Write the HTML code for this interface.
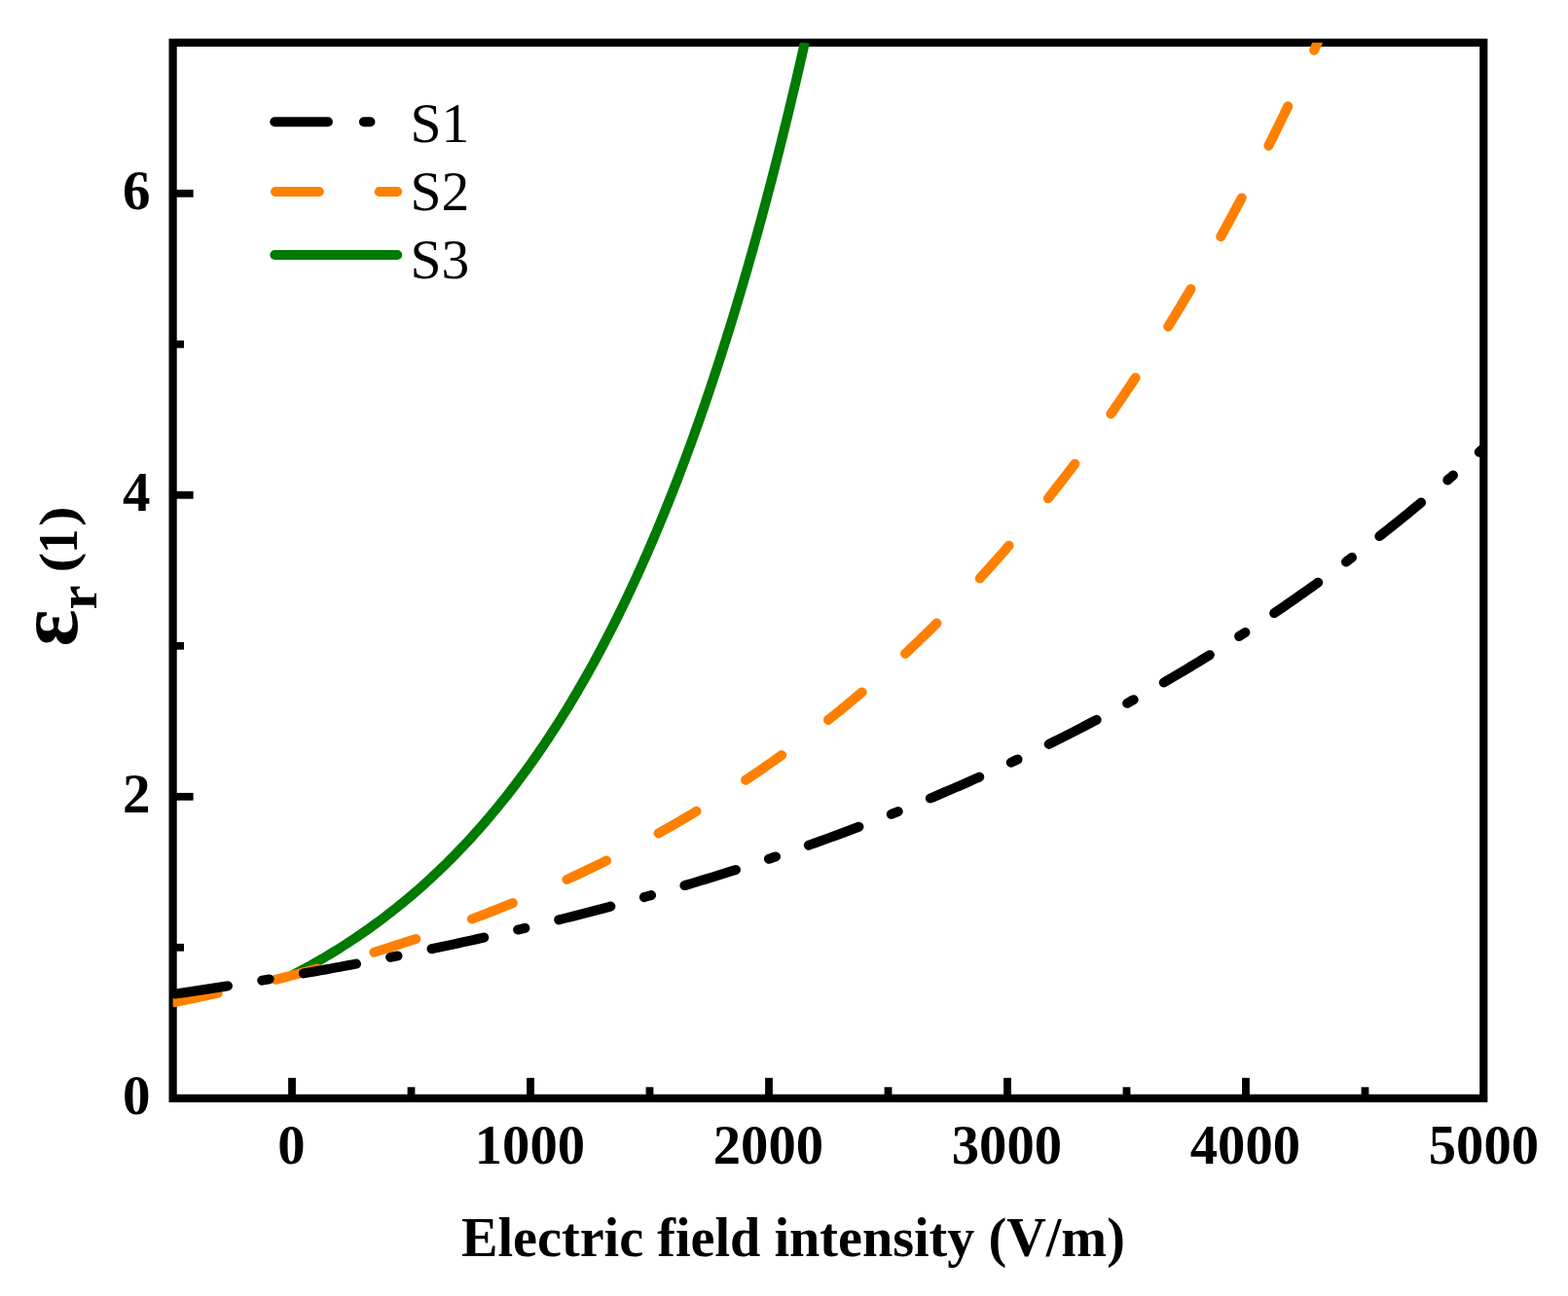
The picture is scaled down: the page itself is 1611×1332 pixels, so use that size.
<!DOCTYPE html>
<html><head><meta charset="utf-8"><title>Relative permittivity vs electric field intensity</title>
<style>
html,body{margin:0;padding:0;background:#fff;}
body{width:1611px;height:1332px;overflow:hidden;}
svg{display:block;}
text{font-family:"Liberation Serif","Times New Roman",serif;fill:#000;}
</style></head>
<body>
<svg width="1611" height="1332" viewBox="0 0 1611 1332">
<defs><clipPath id="plot"><rect x="177.6" y="43.8" width="1346.70" height="1085.00"/></clipPath></defs>
<rect width="1611" height="1332" fill="#fff"/>
<g fill="none" stroke="#000" stroke-width="7.8">
<line x1="300.00" y1="1128.8" x2="300.00" y2="1107.8"/>
<line x1="545.00" y1="1128.8" x2="545.00" y2="1107.8"/>
<line x1="790.00" y1="1128.8" x2="790.00" y2="1107.8"/>
<line x1="1035.00" y1="1128.8" x2="1035.00" y2="1107.8"/>
<line x1="1280.00" y1="1128.8" x2="1280.00" y2="1107.8"/>
<line x1="422.50" y1="1128.8" x2="422.50" y2="1117.3"/>
<line x1="667.50" y1="1128.8" x2="667.50" y2="1117.3"/>
<line x1="912.50" y1="1128.8" x2="912.50" y2="1117.3"/>
<line x1="1157.50" y1="1128.8" x2="1157.50" y2="1117.3"/>
<line x1="1402.50" y1="1128.8" x2="1402.50" y2="1117.3"/>
<line x1="177.6" y1="818.80" x2="198.6" y2="818.80"/>
<line x1="177.6" y1="508.80" x2="198.6" y2="508.80"/>
<line x1="177.6" y1="198.80" x2="198.6" y2="198.80"/>
<line x1="177.6" y1="973.80" x2="189" y2="973.80"/>
<line x1="177.6" y1="663.80" x2="189" y2="663.80"/>
<line x1="177.6" y1="353.80" x2="189" y2="353.80"/>
</g>
<rect x="177.6" y="43.8" width="1346.70" height="1085.00" fill="none" stroke="#000" stroke-width="8.2"/>
<g fill="none" stroke-linejoin="round" clip-path="url(#plot)">
<path d="M300.00,1002.47 L303.35,1000.74 L306.69,998.98 L310.02,997.20 L313.34,995.40 L316.65,993.59 L319.95,991.76 L323.24,989.90 L326.52,988.03 L329.79,986.14 L333.05,984.23 L336.29,982.31 L339.53,980.36 L342.75,978.39 L345.96,976.41 L349.16,974.41 L352.35,972.38 L355.52,970.34 L358.69,968.28 L361.84,966.20 L364.98,964.11 L368.11,961.99 L371.22,959.86 L374.32,957.71 L377.41,955.54 L380.49,953.35 L383.55,951.14 L386.60,948.91 L389.64,946.67 L392.66,944.41 L395.67,942.13 L398.66,939.83 L401.65,937.52 L404.62,935.19 L407.57,932.84 L410.51,930.47 L413.44,928.09 L416.35,925.69 L419.25,923.27 L422.14,920.83 L425.01,918.38 L427.86,915.91 L430.71,913.43 L433.54,910.93 L436.35,908.41 L439.15,905.88 L441.93,903.33 L444.70,900.77 L447.46,898.19 L450.20,895.59 L452.93,892.98 L455.64,890.36 L458.34,887.72 L461.02,885.06 L463.69,882.39 L466.35,879.71 L468.99,877.01 L471.61,874.30 L474.22,871.57 L476.82,868.83 L479.40,866.07 L481.97,863.31 L484.52,860.53 L487.06,857.73 L489.59,854.92 L492.10,852.10 L494.59,849.27 L497.07,846.43 L499.54,843.57 L501.99,840.70 L504.43,837.82 L506.85,834.92 L509.27,832.02 L511.66,829.10 L514.04,826.17 L516.41,823.23 L518.77,820.28 L521.11,817.32 L523.43,814.35 L525.75,811.36 L528.05,808.37 L530.33,805.36 L532.61,802.35 L534.87,799.33 L537.11,796.29 L539.35,793.25 L541.57,790.19 L543.77,787.13 L545.96,784.06 L548.15,780.98 L550.31,777.89 L552.47,774.79 L554.61,771.68 L556.74,768.56 L558.86,765.43 L560.96,762.30 L563.05,759.16 L565.13,756.01 L567.20,752.85 L569.25,749.68 L571.30,746.51 L573.33,743.32 L575.35,740.13 L577.35,736.94 L579.35,733.73 L581.33,730.52 L583.31,727.30 L585.27,724.07 L587.22,720.84 L589.15,717.60 L591.08,714.35 L593.00,711.10 L594.90,707.84 L596.79,704.58 L598.68,701.30 L600.55,698.03 L602.41,694.74 L604.26,691.45 L606.10,688.15 L607.93,684.85 L609.75,681.54 L611.56,678.23 L613.35,674.91 L615.14,671.59 L616.92,668.26 L618.69,664.92 L620.45,661.58 L622.19,658.23 L623.93,654.88 L625.66,651.53 L627.38,648.16 L629.09,644.80 L630.79,641.43 L632.48,638.05 L634.16,634.67 L635.84,631.29 L637.50,627.90 L639.15,624.51 L640.80,621.11 L642.44,617.71 L644.06,614.30 L645.68,610.89 L647.29,607.47 L648.89,604.06 L650.49,600.63 L652.07,597.21 L653.65,593.78 L655.21,590.34 L656.77,586.90 L658.32,583.46 L659.87,580.02 L661.40,576.57 L662.93,573.11 L664.45,569.66 L665.96,566.20 L667.46,562.74 L668.96,559.27 L670.45,555.80 L671.93,552.33 L673.40,548.85 L674.87,545.37 L676.32,541.89 L677.77,538.40 L679.22,534.92 L680.65,531.43 L682.08,527.93 L683.50,524.43 L684.92,520.93 L686.33,517.43 L687.73,513.93 L689.12,510.42 L690.51,506.91 L691.89,503.39 L693.26,499.88 L694.63,496.36 L695.99,492.83 L697.34,489.31 L698.69,485.78 L700.03,482.26 L701.37,478.72 L702.69,475.19 L704.02,471.65 L705.33,468.12 L706.64,464.57 L707.95,461.03 L709.24,457.49 L710.53,453.94 L711.82,450.39 L713.10,446.84 L714.37,443.28 L715.64,439.73 L716.90,436.17 L718.16,432.61 L719.41,429.05 L720.65,425.48 L721.89,421.92 L723.13,418.35 L724.35,414.78 L725.58,411.21 L726.79,407.63 L728.00,404.06 L729.21,400.48 L730.41,396.90 L731.61,393.32 L732.80,389.74 L733.98,386.15 L735.16,382.57 L736.34,378.98 L737.51,375.39 L738.67,371.80 L739.83,368.21 L740.99,364.61 L742.14,361.02 L743.28,357.42 L744.42,353.82 L745.56,350.22 L746.69,346.62 L747.82,343.02 L748.94,339.41 L750.05,335.81 L751.17,332.20 L752.27,328.59 L753.38,324.98 L754.48,321.37 L755.57,317.75 L756.66,314.14 L757.74,310.52 L758.82,306.91 L759.90,303.29 L760.97,299.67 L762.04,296.05 L763.10,292.42 L764.16,288.80 L765.22,285.18 L766.27,281.55 L767.32,277.92 L768.36,274.29 L769.40,270.66 L770.43,267.03 L771.46,263.40 L772.49,259.77 L773.51,256.13 L774.53,252.50 L775.54,248.86 L776.55,245.23 L777.56,241.59 L778.56,237.95 L779.56,234.31 L780.56,230.67 L781.55,227.02 L782.54,223.38 L783.52,219.73 L784.50,216.09 L785.48,212.44 L786.45,208.80 L787.42,205.15 L788.39,201.50 L789.35,197.85 L790.31,194.20 L791.27,190.54 L792.22,186.89 L793.17,183.24 L794.11,179.58 L795.05,175.93 L795.99,172.27 L796.93,168.61 L797.86,164.95 L798.79,161.29 L799.71,157.63 L800.63,153.97 L801.55,150.31 L802.47,146.65 L803.38,142.98 L804.29,139.32 L805.19,135.66 L806.10,131.99 L807.00,128.32 L807.89,124.66 L808.79,120.99 L809.68,117.32 L810.56,113.65 L811.45,109.98 L812.33,106.31 L813.21,102.64 L814.08,98.97 L814.95,95.29 L815.82,91.62 L816.69,87.94 L817.55,84.27 L818.41,80.59 L819.27,76.92 L820.13,73.24 L820.98,69.56 L821.83,65.88 L822.68,62.20 L823.52,58.52 L824.36,54.84 L825.20,51.16 L826.03,47.48 L826.87,43.80" stroke="#007a00" stroke-width="10" stroke-linecap="butt"/>
<path d="M179.66,1029.98 L183.67,1029.17 L187.67,1028.35 L191.68,1027.53 L195.69,1026.70 L199.69,1025.86 L203.69,1025.02 L207.70,1024.16 L211.70,1023.31 L215.69,1022.44 L219.69,1021.57 L223.69,1020.69 M282.98,1006.79 L286.94,1005.80 L290.91,1004.80 L294.88,1003.79 L298.84,1002.77 L302.80,1001.75 L306.76,1000.72 L310.72,999.68 L314.67,998.64 L318.62,997.58 L322.57,996.52 L326.52,995.45 M384.45,978.71 L388.36,977.51 L392.27,976.30 L396.17,975.08 L400.08,973.85 L403.98,972.61 L407.87,971.37 L411.76,970.11 L415.66,968.85 L419.54,967.57 L423.43,966.29 L427.31,965.00 M484.89,944.57 L488.72,943.13 L492.54,941.67 L496.36,940.21 L500.18,938.73 L503.99,937.25 L507.80,935.75 L511.60,934.25 L515.40,932.73 L519.20,931.21 L522.99,929.67 L526.78,928.13 M582.37,904.02 L586.09,902.31 L589.80,900.59 L593.50,898.85 L597.20,897.11 L600.90,895.36 L604.59,893.59 L608.28,891.82 L611.96,890.03 L615.63,888.23 L619.30,886.42 L622.96,884.60 M676.58,856.37 L680.15,854.38 L683.72,852.37 L687.28,850.36 L690.83,848.33 L694.38,846.29 L697.92,844.24 L701.45,842.18 L704.98,840.11 L708.50,838.03 L712.02,835.94 L715.53,833.83 M766.11,801.76 L769.51,799.48 L772.90,797.19 L776.28,794.89 L779.66,792.58 L783.03,790.26 L786.39,787.93 L789.74,785.59 L793.09,783.24 L796.43,780.88 L799.76,778.50 L803.09,776.12 M850.86,740.00 L854.06,737.45 L857.26,734.89 L860.44,732.32 L863.62,729.75 L866.79,727.16 L869.95,724.56 L873.10,721.95 L876.24,719.33 L879.37,716.70 L882.50,714.07 L885.62,711.42 M930.03,671.83 L933.02,669.03 L935.99,666.23 L938.96,663.41 L941.93,660.59 L944.88,657.76 L947.83,654.92 L950.76,652.07 L953.69,649.22 L956.61,646.35 L959.52,643.48 L962.42,640.59 M1006.72,594.41 L1009.48,591.39 L1012.23,588.36 L1014.97,585.32 L1017.71,582.28 L1020.43,579.23 L1023.15,576.18 L1025.86,573.11 L1028.56,570.04 L1031.26,566.96 L1033.94,563.87 L1036.62,560.78 M1076.79,512.25 L1079.33,509.05 L1081.86,505.83 L1084.39,502.61 L1086.90,499.39 L1089.41,496.16 L1091.91,492.92 L1094.41,489.68 L1096.89,486.43 L1099.37,483.17 L1101.84,479.91 L1104.30,476.64 M1141.34,425.44 L1143.67,422.08 L1146.00,418.71 L1148.32,415.34 L1150.63,411.97 L1152.94,408.59 L1155.23,405.20 L1157.52,401.82 L1159.81,398.42 L1162.08,395.02 L1164.35,391.62 L1166.61,388.21 M1200.22,335.63 L1202.36,332.15 L1204.50,328.66 L1206.64,325.17 L1208.76,321.68 L1210.88,318.18 L1213.00,314.68 L1215.10,311.17 L1217.20,307.66 L1219.29,304.14 L1221.38,300.62 L1223.46,297.10 M1254.29,243.08 L1256.27,239.50 L1258.24,235.92 L1260.21,232.33 L1262.17,228.74 L1264.12,225.14 L1266.07,221.55 L1268.01,217.94 L1269.94,214.34 L1271.87,210.73 L1273.80,207.12 L1275.71,203.51 M1303.40,149.72 L1305.23,146.06 L1307.05,142.40 L1308.87,138.73 L1310.68,135.06 L1312.49,131.39 L1314.29,127.72 L1316.08,124.04 L1317.88,120.37 L1319.66,116.68 L1321.44,113.00 L1323.22,109.32 M1350.19,51.61 L1350.52,50.90 L1350.84,50.19 L1351.16,49.48 L1351.48,48.77 L1351.81,48.06 L1352.13,47.35 L1352.45,46.64 L1352.77,45.93 L1353.09,45.22 L1353.41,44.51 L1353.73,43.80" stroke="#ff8000" stroke-width="10" stroke-linecap="round"/>
<path d="M177.50,1021.87 L182.41,1021.15 L187.32,1020.43 L192.22,1019.70 L197.13,1018.97 L202.04,1018.24 L206.94,1017.50 L211.84,1016.75 L216.75,1016.00 L221.65,1015.25 L226.55,1014.49 L231.45,1013.72 L236.35,1012.95 L241.25,1012.18 L246.15,1011.40 L251.05,1010.61 L255.95,1009.82 L260.85,1009.03 L265.74,1008.23 L270.64,1007.42 L275.53,1006.61 L280.42,1005.80 L285.31,1004.97 L290.21,1004.15 L295.10,1003.32 L299.99,1002.48 L304.87,1001.63 L309.76,1000.79 L314.65,999.93 L319.53,999.07 L324.42,998.21 L329.30,997.34 L334.18,996.46 L339.07,995.58 L343.95,994.69 L348.83,993.80 L353.70,992.90 L358.58,991.99 L363.46,991.08 L368.33,990.17 L373.21,989.25 L378.08,988.32 L382.95,987.38 L387.82,986.44 L392.69,985.50 L397.56,984.54 L402.43,983.59 L407.29,982.62 L412.16,981.65 L417.02,980.67 L421.88,979.69 L426.74,978.70 L431.60,977.70 L436.46,976.70 L441.32,975.69 L446.17,974.68 L451.03,973.66 L455.88,972.63 L460.73,971.60 L465.58,970.56 L470.43,969.51 L475.28,968.45 L480.12,967.39 L484.97,966.33 L489.81,965.25 L494.65,964.17 L499.49,963.08 L504.33,961.99 L509.17,960.89 L514.00,959.78 L518.84,958.66 L523.67,957.54 L528.50,956.41 L533.33,955.28 L538.15,954.13 L542.98,952.98 L547.80,951.83 L552.63,950.66 L557.45,949.49 L562.26,948.31 L567.08,947.12 L571.90,945.93 L576.71,944.73 L581.52,943.52 L586.33,942.30 L591.14,941.08 L595.94,939.85 L600.74,938.61 L605.55,937.36 L610.34,936.11 L615.14,934.85 L619.94,933.58 L624.73,932.30 L629.52,931.01 L634.31,929.72 L639.10,928.42 L643.88,927.11 L648.67,925.79 L653.45,924.47 L658.22,923.14 L663.00,921.80 L667.77,920.45 L672.55,919.09 L677.31,917.73 L682.08,916.35 L686.85,914.97 L691.61,913.58 L696.37,912.18 L701.12,910.78 L705.88,909.36 L710.63,907.94 L715.38,906.51 L720.13,905.07 L724.87,903.62 L729.61,902.16 L734.35,900.69 L739.09,899.22 L743.82,897.74 L748.55,896.24 L753.28,894.74 L758.01,893.23 L762.73,891.71 L767.45,890.19 L772.16,888.65 L776.88,887.11 L781.59,885.55 L786.30,883.99 L791.00,882.42 L795.70,880.84 L800.40,879.25 L805.10,877.65 L809.79,876.04 L814.48,874.42 L819.17,872.79 L823.85,871.16 L828.53,869.51 L833.20,867.86 L837.88,866.19 L842.55,864.52 L847.21,862.83 L851.88,861.14 L856.54,859.44 L861.19,857.73 L865.84,856.01 L870.49,854.28 L875.14,852.54 L879.78,850.79 L884.42,849.03 L889.05,847.26 L893.68,845.48 L898.31,843.69 L902.93,841.89 L907.55,840.08 L912.17,838.26 L916.78,836.43 L921.38,834.59 L925.99,832.75 L930.59,830.89 L935.18,829.02 L939.77,827.14 L944.36,825.25 L948.94,823.35 L953.52,821.45 L958.10,819.53 L962.67,817.60 L967.23,815.66 L971.79,813.71 L976.35,811.75 L980.90,809.78 L985.45,807.80 L989.99,805.81 L994.53,803.81 L999.07,801.80 L1003.60,799.77 L1008.12,797.74 L1012.64,795.70 L1017.16,793.65 L1021.67,791.58 L1026.18,789.51 L1030.68,787.43 L1035.18,785.33 L1039.67,783.23 L1044.15,781.11 L1048.64,778.98 L1053.11,776.85 L1057.58,774.70 L1062.05,772.54 L1066.51,770.37 L1070.97,768.19 L1075.42,766.00 L1079.86,763.80 L1084.30,761.59 L1088.74,759.37 L1093.17,757.13 L1097.59,754.89 L1102.01,752.63 L1106.42,750.37 L1110.83,748.09 L1115.23,745.81 L1119.63,743.51 L1124.02,741.20 L1128.40,738.88 L1132.78,736.55 L1137.16,734.21 L1141.53,731.86 L1145.89,729.50 L1150.24,727.12 L1154.59,724.74 L1158.94,722.34 L1163.27,719.94 L1167.61,717.52 L1171.93,715.09 L1176.25,712.65 L1180.57,710.20 L1184.87,707.74 L1189.17,705.27 L1193.47,702.79 L1197.76,700.30 L1202.04,697.79 L1206.32,695.28 L1210.59,692.75 L1214.85,690.22 L1219.11,687.67 L1223.36,685.11 L1227.60,682.54 L1231.84,679.96 L1236.07,677.37 L1240.29,674.77 L1244.51,672.16 L1248.72,669.53 L1252.92,666.90 L1257.12,664.26 L1261.31,661.60 L1265.49,658.93 L1269.67,656.26 L1273.83,653.57 L1278.00,650.87 L1282.15,648.16 L1286.30,645.44 L1290.44,642.71 L1294.58,639.97 L1298.70,637.21 L1302.82,634.45 L1306.93,631.68 L1311.04,628.89 L1315.14,626.10 L1319.23,623.29 L1323.31,620.48 L1327.39,617.65 L1331.46,614.81 L1335.52,611.96 L1339.57,609.10 L1343.62,606.24 L1347.66,603.36 L1351.69,600.47 L1355.71,597.57 L1359.73,594.65 L1363.74,591.73 L1367.74,588.80 L1371.74,585.86 L1375.72,582.91 L1379.70,579.94 L1383.67,576.97 L1387.63,573.99 L1391.59,570.99 L1395.54,567.99 L1399.48,564.97 L1403.41,561.95 L1407.33,558.92 L1411.25,555.87 L1415.16,552.82 L1419.06,549.75 L1422.95,546.68 L1426.84,543.59 L1430.71,540.50 L1434.58,537.39 L1438.44,534.28 L1442.29,531.15 L1446.14,528.02 L1449.98,524.87 L1453.80,521.72 L1457.63,518.56 L1461.44,515.38 L1465.24,512.20 L1469.04,509.01 L1472.83,505.80 L1476.61,502.59 L1480.38,499.37 L1484.14,496.14 L1487.90,492.90 L1491.64,489.65 L1495.38,486.39 L1499.11,483.12 L1502.84,479.84 L1506.55,476.55 L1510.26,473.25 L1513.96,469.95 L1517.65,466.63 L1521.33,463.31 L1525.00,459.97" stroke="#000" stroke-width="10" stroke-linecap="round" stroke-dasharray="55 35.75 7.5 35.75" stroke-dashoffset="-2.1"/>
</g>
<g font-weight="bold" font-size="56.6" text-anchor="middle">
<text x="299.40" y="1196">0</text>
<text x="544.40" y="1196">1000</text>
<text x="789.40" y="1196">2000</text>
<text x="1034.40" y="1196">3000</text>
<text x="1279.40" y="1196">4000</text>
<text x="1524.40" y="1196">5000</text>
</g>
<g font-weight="bold" font-size="57" text-anchor="end">
<text x="154.5" y="1145.40">0</text>
<text x="154.5" y="835.40">2</text>
<text x="154.5" y="525.40">4</text>
<text x="154.5" y="215.40">6</text>
</g>
<text x="474" y="1291.1" font-weight="bold" font-size="56.2">Electric field intensity (V/m)</text>
<g transform="translate(79.4,664.4) rotate(-90)" font-weight="bold">
<text x="0" y="0" font-size="89">ε</text>
<text x="38" y="19.9" font-size="56">r</text>
<text transform="translate(75.9,-2.1) scale(1.1,0.91)" font-size="57">(</text>
<text transform="translate(95.7,-0.4) scale(0.886,1)" font-size="57">1</text>
<text transform="translate(123.4,-2.1) scale(1.1,0.91)" font-size="57">)</text>
</g>
<g fill="none" stroke-width="10" stroke-linecap="round">
<line x1="282.3" y1="125.3" x2="336.9" y2="125.3" stroke="#000"/>
<line x1="373.9" y1="125.3" x2="380.4" y2="125.3" stroke="#000"/>
<line x1="283" y1="197" x2="327.8" y2="197" stroke="#ff8000"/>
<line x1="389.7" y1="197" x2="408.2" y2="197" stroke="#ff8000"/>
<line x1="282.3" y1="262" x2="408.2" y2="262" stroke="#007a00"/>
</g>
<g font-size="57.5">
<text x="421.5" y="145.5">S1</text>
<text x="421.5" y="216.2">S2</text>
<text x="421.5" y="285.5">S3</text>
</g>
</svg>
</body></html>
